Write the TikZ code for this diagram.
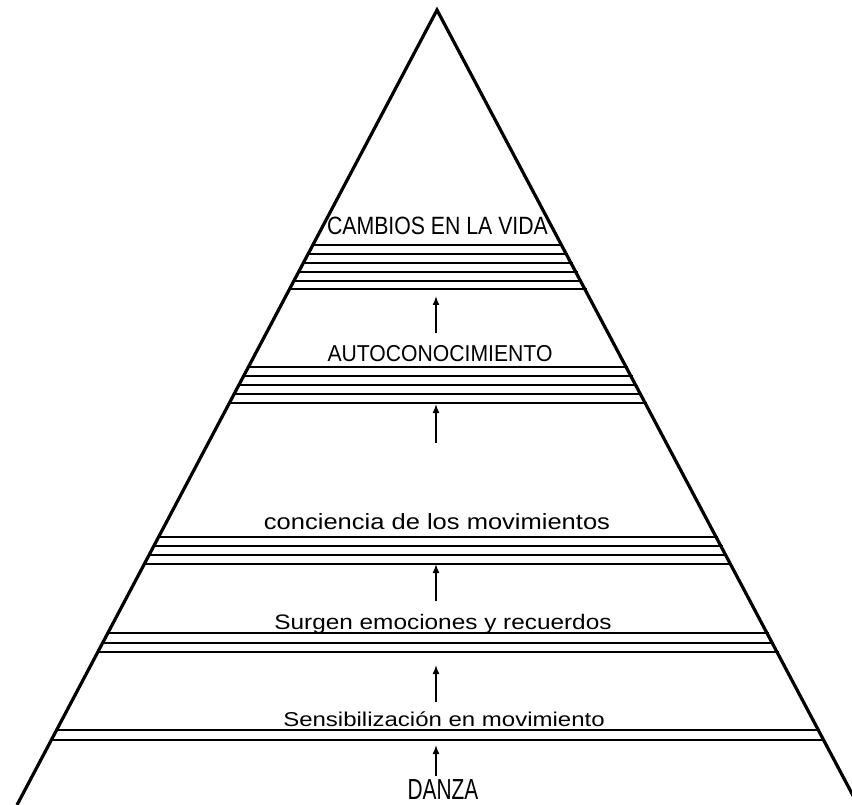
\documentclass[tikz,border=0pt]{standalone}
\usepackage{fontspec}
\setmainfont{Liberation Sans}
\usetikzlibrary{arrows.meta}
\begin{document}
\begin{tikzpicture}[x=1pt,y=-1pt,
  edge/.style={line width=3.2pt, line join=miter, miter limit=20},
  band/.style={line width=1.8pt},
  up/.style={line width=1.5pt, -{Latex[length=9pt,width=7pt]}},
  lbl/.style={anchor=base, inner sep=0pt}]
\useasboundingbox (0,0) rectangle (852,805);
\clip (0,0) rectangle (852,805);
\coordinate (apex) at (437,10);
\coordinate (bl) at (17,805);
\coordinate (br) at (858,805);
\draw[edge] (bl) -- (apex) -- (br);
\foreach \y in {245,254,263,272,281,289,367,376,385,394,403,537,546,555,564,633,643,652,730,740}
  \draw[band] ({437-0.528*(\y-10)},\y) -- ({439+0.529*(\y-10)},\y);
\node[lbl] (t1) at (437.5,235) {\fontsize{25}{30}\selectfont\scalebox{0.85}[1]{CAMBIOS EN LA VIDA}};
\node[lbl] (t2) at (440,361) {\fontsize{23}{27}\selectfont\scalebox{0.92}[1]{AUTOCONOCIMIENTO}};
\node[lbl] (t3) at (437,529) {\fontsize{22}{26}\selectfont\scalebox{1.16}[1]{conciencia de los movimientos}};
\node[lbl] (t4) at (443,629) {\fontsize{21}{25}\selectfont\scalebox{1.16}[1]{Surgen emociones y recuerdos}};
\node[lbl] (t5) at (444,726) {\fontsize{20}{24}\selectfont\scalebox{1.2}[1]{Sensibilización en movimiento}};
\node[lbl] (t6) at (443,799) {\fontsize{29}{34}\selectfont\scalebox{0.72}[1]{DANZA}};
\coordinate (a1s) at (436,333); \coordinate (a1e) at (436,296);
\coordinate (a2s) at (436,443); \coordinate (a2e) at (436,404);
\coordinate (a3s) at (436,601); \coordinate (a3e) at (436,564);
\coordinate (a4s) at (436,702); \coordinate (a4e) at (436,665);
\coordinate (a5s) at (436,776); \coordinate (a5e) at (436,745);
\draw[up] (a1s) -- (a1e);
\draw[up] (a2s) -- (a2e);
\draw[up] (a3s) -- (a3e);
\draw[up] (a4s) -- (a4e);
\draw[up] (a5s) -- (a5e);
\end{tikzpicture}
\end{document}
